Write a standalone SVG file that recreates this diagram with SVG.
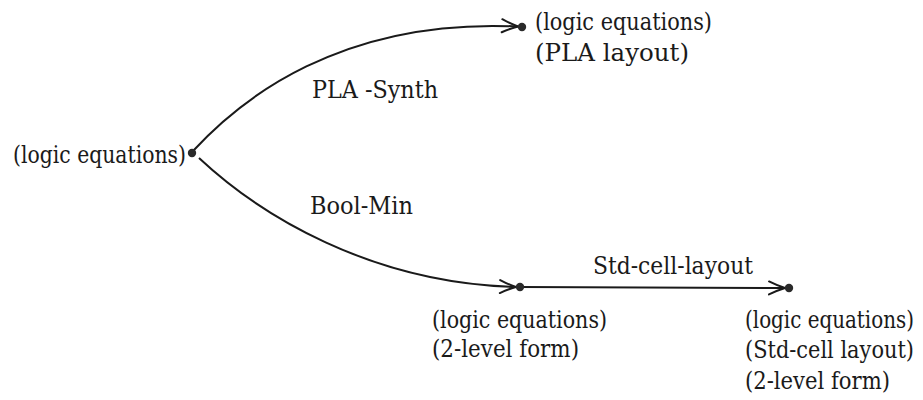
<svg xmlns="http://www.w3.org/2000/svg" width="923" height="400" viewBox="0 0 923 400">
<style>
.t{font-size:24px;fill:#1a1a1a;font-family:"DejaVu Serif","Liberation Serif",serif}
.s{font-size:20.5px}
.edge{fill:none;stroke:#1a1a1a;stroke-width:2}
.dot{fill:#2a2a2a}
</style>
<defs>
<marker id="arr" markerUnits="userSpaceOnUse" markerWidth="24" markerHeight="20" viewBox="-18 -10 20 20" refX="0" refY="0" orient="auto">
<path d="M-16,-6.5 Q-8,-2.5 0,0 Q-8,2.5 -16,6.5" fill="none" stroke="#1a1a1a" stroke-width="2" stroke-linecap="round"/>
</marker>
</defs>
<rect width="923" height="400" fill="#fff"/>
<g id="connectors">
<path class="edge" d="M193,151 C240,100 340,18 518,26.5" marker-end="url(#arr)"/>
<path class="edge" d="M199,158 C260,215 370,283 516,287" marker-end="url(#arr)"/>
<path class="edge" d="M520,287 L785,288" marker-end="url(#arr)"/>
<text class="t" x="312" y="98" textLength="126" lengthAdjust="spacingAndGlyphs">PLA -Synth</text>
<text class="t" x="310" y="214" textLength="103" lengthAdjust="spacingAndGlyphs">Bool-Min</text>
<text class="t" x="593" y="274" textLength="160" lengthAdjust="spacingAndGlyphs">Std-cell-layout</text>
</g>
<g id="n-source">
<circle class="dot" cx="192" cy="153" r="4.2"/>
<text class="t" x="13" y="163" textLength="173" lengthAdjust="spacingAndGlyphs">(logic equations)</text>
</g>
<g id="n-pla">
<circle class="dot" cx="522" cy="27" r="4.2"/>
<text class="t" x="535" y="30" textLength="177" lengthAdjust="spacingAndGlyphs">(logic equations)</text>
<text class="t" x="535" y="61" textLength="154" lengthAdjust="spacingAndGlyphs">(PLA layout)</text>
</g>
<g id="n-twolevel">
<circle class="dot" cx="520" cy="287" r="4.2"/>
<text class="t" x="432" y="328" textLength="175" lengthAdjust="spacingAndGlyphs">(logic equations)</text>
<text class="t" x="432" y="357" textLength="147" lengthAdjust="spacingAndGlyphs">(2-level form)</text>
</g>
<g id="n-stdcell">
<circle class="dot" cx="789" cy="288" r="4.2"/>
<text class="t s" transform="translate(745,328) scale(1,1.17)" x="0" y="0" textLength="169" lengthAdjust="spacingAndGlyphs">(logic equations)</text>
<text class="t s" transform="translate(745,358) scale(1,1.17)" x="0" y="0" textLength="169" lengthAdjust="spacingAndGlyphs">(Std-cell layout)</text>
<text class="t" x="745" y="389" textLength="145" lengthAdjust="spacingAndGlyphs">(2-level form)</text>
</g>
</svg>
